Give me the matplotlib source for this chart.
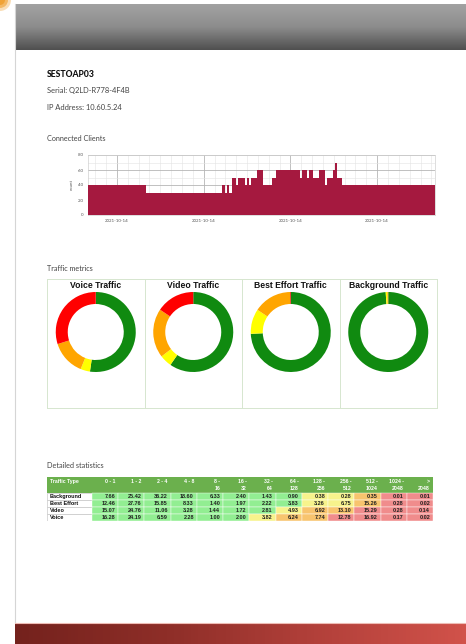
import numpy as np
import matplotlib
matplotlib.use("Agg")
import matplotlib.pyplot as plt
from matplotlib.patches import Rectangle, Wedge
from matplotlib.ticker import FixedLocator, AutoMinorLocator
from matplotlib.colors import LinearSegmentedColormap

W, H = 466, 644
plt.rcParams['font.family'] = ['Lato', 'DejaVu Sans']

# ---------------- data ----------------
device_name = "SESTOAP03"
serial_text = "Serial: Q2LD-R778-4F4B"
ip_text = "IP Address: 10.60.5.24"

# connected clients: step changes (hour of day, client count)
client_hours = [0, 3.99, 9.30, 9.46, 9.60, 9.74, 9.97, 10.22, 10.36, 10.87, 10.98,
                11.12, 11.28, 11.70, 12.12, 12.74, 13.02, 14.63, 14.77, 15.12,
                15.28, 15.58, 15.97, 16.38, 16.52, 16.92, 17.05, 17.22, 17.56, 24]
client_counts = [4, 3, 4, 3, 4, 3, 5, 4, 5, 4, 5,
                 4, 5, 6, 4, 5, 6, 5, 6, 5,
                 6, 5, 6, 4, 5, 6, 7, 5, 4, 4]
x_tick_pos = [2, 8, 14, 20]
x_tick_labels = ["2021-10-14", "2021-10-14", "2021-10-14", "2021-10-14"]
y_tick_pos = [0, 2, 4, 6, 8]
y_tick_labels = ["0", "2.0", "4.0", "6.0", "8.0"]

# latency distribution table (% of packets per latency bin, ms)
bin_labels = ["0 - 1", "1 - 2", "2 - 4", "4 - 8", "8 -\n16", "16 -\n32", "32 -\n64",
              "64 -\n128", "128 -\n256", "256 -\n512", "512 -\n1024", "1024 -\n2048", ">\n2048"]
bin_lower_ms = [0, 1, 2, 4, 8, 16, 32, 64, 128, 256, 512, 1024, 2048]
row_names = ["Background", "Best Effort", "Video", "Voice"]
background_vals = [7.66, 25.42, 36.22, 18.60, 6.33, 2.40, 1.43, 0.90, 0.38, 0.28, 0.35, 0.01, 0.01]
best_effort_vals = [12.46, 27.76, 15.85, 8.33, 1.40, 1.97, 2.22, 3.83, 3.26, 6.75, 15.26, 0.28, 0.02]
video_vals = [15.07, 24.76, 11.06, 3.28, 1.44, 1.72, 2.81, 4.93, 6.92, 13.10, 15.29, 0.28, 0.14]
voice_vals = [16.28, 24.19, 6.59, 2.28, 1.00, 2.00, 3.82, 6.24, 7.74, 12.78, 16.92, 0.17, 0.02]

# quality thresholds (ms) per traffic type: good / fair / poor / bad
voice_thresholds = [32, 64, 256]
video_thresholds = [64, 128, 512]
best_effort_thresholds = [128, 512, 1024]
background_thresholds = [128, 512, 1024]

panel_titles = ["Voice Traffic", "Video Traffic", "Best Effort Traffic", "Background Traffic"]
quality_colors = ["#108a10", "#ffff00", "#ffa500", "#ff0000"]
cell_colors = ["#92ee92", "#f7f38c", "#f8c46e", "#f08c8c"]


def category(lower, thr):
    return sum(1 for t in thr if lower >= t)


def shares(vals, thr):
    out = [0.0, 0.0, 0.0, 0.0]
    for v, lo in zip(vals, bin_lower_ms):
        out[category(lo, thr)] += v
    return out


def legend_labels(thr, sh):
    a, b, c = thr
    return [f"Below {a} ms ({sh[0]:.2f} %)", f"{a} - {b} ms ({sh[1]:.2f} %)",
            f"{b} - {c} ms ({sh[2]:.2f} %)", f"Above {c} ms ({sh[3]:.2f} %)"]


panel_data = [(voice_vals, voice_thresholds), (video_vals, video_thresholds),
              (best_effort_vals, best_effort_thresholds), (background_vals, background_thresholds)]
table_data = [(background_vals, background_thresholds), (best_effort_vals, best_effort_thresholds),
              (video_vals, video_thresholds), (voice_vals, voice_thresholds)]


# ---------------- figure ----------------
fig = plt.figure(figsize=(W / 100, H / 100), dpi=100)


def px_axes(x, y, w, h, **kw):
    return fig.add_axes([x / W, 1 - (y + h) / H, w / W, h / H], **kw)


bg = fig.add_axes([0, 0, 1, 1], zorder=0)
bg.set_xlim(0, W)
bg.set_ylim(H, 0)
bg.axis("off")

# orange corner glow
for r, a in [(11, 0.35), (8, 0.6), (5, 0.9)]:
    bg.add_patch(Wedge((0, 0), r, 0, 90, color="#f0a030", alpha=a, lw=0))

# page border
bg.plot([15, 15], [4, 622], color="#d5d5d5", lw=0.8)

# header gradient
grad = np.linspace(0, 1, 64).reshape(-1, 1)
hdr_cmap = LinearSegmentedColormap.from_list("hdr", ["#a2a2a2", "#8c8c8c", "#505050"])
bg.imshow(grad, cmap=hdr_cmap, aspect="auto", extent=(15, W, 50, 4), zorder=1)
# footer gradient
fgrad = np.linspace(0, 1, 128).reshape(1, -1)
ftr_cmap = LinearSegmentedColormap.from_list("ftr", ["#74221d", "#8e2e28", "#b2403a", "#d1524a"])
bg.imshow(fgrad, cmap=ftr_cmap, aspect="auto", extent=(15, W, 644, 623), zorder=1)
bg.plot([15, W], [622.5, 622.5], color="#eebcb5", lw=0.8, zorder=2)
bg.set_xlim(0, W)
bg.set_ylim(H, 0)

# text block
bg.text(47, 74, device_name, fontsize=6.2, fontweight="black", va="center", color="#111")
bg.text(47, 90, serial_text, fontsize=5.4, va="center", color="#444")
bg.text(47, 107, ip_text, fontsize=5.4, va="center", color="#444")
bg.text(47, 138, "Connected Clients", fontsize=5.2, va="center", color="#444")
bg.text(47, 268, "Traffic metrics", fontsize=5.2, va="center", color="#444")
bg.text(47, 465, "Detailed statistics", fontsize=5.2, va="center", color="#444")

# ---------------- connected clients ----------------
ax = px_axes(88, 155, 347, 60, zorder=2)
ax.fill_between(client_hours, client_counts, step="post", color="#a5193f", lw=0, zorder=3)
ax.set_xlim(0, 24)
ax.set_ylim(0, 8)
ax.xaxis.set_major_locator(FixedLocator(x_tick_pos))
ax.set_xticklabels(x_tick_labels)
ax.set_yticks(y_tick_pos)
ax.set_yticklabels(y_tick_labels)
ax.xaxis.set_minor_locator(AutoMinorLocator(8))
ax.yaxis.set_minor_locator(AutoMinorLocator(2))
ax.grid(which="major", color="#b5b5b5", lw=0.6, zorder=1)
ax.grid(which="minor", color="#e4e4e4", lw=0.4, zorder=1)
ax.set_axisbelow(True)
ax.tick_params(which="both", length=0, labelsize=3.2, labelcolor="#555", pad=3)
ax.set_ylabel("count", fontsize=3.2, color="#555", labelpad=3)
for s in ax.spines.values():
    s.set_color("#d0d0d0")
    s.set_linewidth(0.5)

# ---------------- donut panels ----------------
panel_left = 47
panel_w = 97.5
for i, (title, (vals, thr)) in enumerate(zip(panel_titles, panel_data)):
    px0 = panel_left + i * panel_w
    pan = px_axes(px0, 279, panel_w, 129, zorder=2)
    pan.set_xticks([])
    pan.set_yticks([])
    for s in pan.spines.values():
        s.set_color("#d6e6cf")
        s.set_linewidth(0.7)
    pan.text(0.5, 1 - 6 / 129, title, transform=pan.transAxes, ha="center", va="center",
             fontsize=6.2, fontweight="bold", family=["Liberation Sans", "DejaVu Sans"], color="#111")

    sh = shares(vals, thr)
    cx = px0 + panel_w / 2
    pie_ax = px_axes(cx - 40, 292, 80, 80, zorder=3)
    pie_ax.pie(sh, colors=quality_colors, startangle=90, counterclock=False,
               wedgeprops=dict(width=0.3, linewidth=0))
    pie_ax.set_xlim(-1, 1)
    pie_ax.set_ylim(-1, 1)
    pie_ax.set_aspect("equal")

    labels = legend_labels(thr, sh)
    for k, (lab, col) in enumerate(zip(labels, quality_colors)):
        yy = 378 + k * 8.3
        bg.add_patch(Rectangle((px0 + 26, yy - 1.8), 7, 3.6, color=col, lw=0, zorder=5))
        bg.text(px0 + 35, yy, lab, fontsize=2.7, va="center", color="#555", zorder=5)

# ---------------- table ----------------
tx, ty = 47, 477
first_w = 45
col_w = (433 - 47 - first_w) / len(bin_labels)
head_h = 16
row_h = 7
tb = px_axes(tx, ty, 386, head_h + row_h * len(row_names), zorder=2)
tb.set_xlim(0, 386)
tb.set_ylim(head_h + row_h * len(row_names), 0)
tb.axis("off")
tfont = ["Liberation Sans", "DejaVu Sans"]

tb.add_patch(Rectangle((0, 0), 386, head_h, color="#6bb04d", lw=0))
tb.text(3, 4.5, "Traffic Type", fontsize=3.7, fontweight="bold", color="white", va="center",
        family=tfont)
for j, lab in enumerate(bin_labels):
    x_right = first_w + (j + 1) * col_w - 3
    for li, part in enumerate(lab.split("\n")):
        tb.text(x_right, 4.5 + li * 7.5, part, fontsize=3.7, fontweight="bold",
                color="white", va="center", ha="right", family=tfont)

for r, (name, (vals, thr)) in enumerate(zip(row_names, table_data)):
    y0 = head_h + r * row_h
    tb.add_patch(Rectangle((0.3, y0), first_w - 0.6, row_h, facecolor="white",
                           edgecolor="#bcbcbc", lw=0.4))
    tb.text(3, y0 + row_h / 2, name, fontsize=4.0, fontweight="bold", color="#111", va="center",
            family=tfont)
    for j, (v, lo) in enumerate(zip(vals, bin_lower_ms)):
        x0 = first_w + j * col_w
        tb.add_patch(Rectangle((x0, y0), col_w, row_h,
                               facecolor=cell_colors[category(lo, thr)], edgecolor="#ffffff", lw=0.3))
        tb.text(x0 + col_w - 3, y0 + row_h / 2, f"{v:.2f}", fontsize=4.0, fontweight="bold",
                color="#222", va="center", ha="right", family=tfont)

fig.savefig("out.png", dpi=100)
